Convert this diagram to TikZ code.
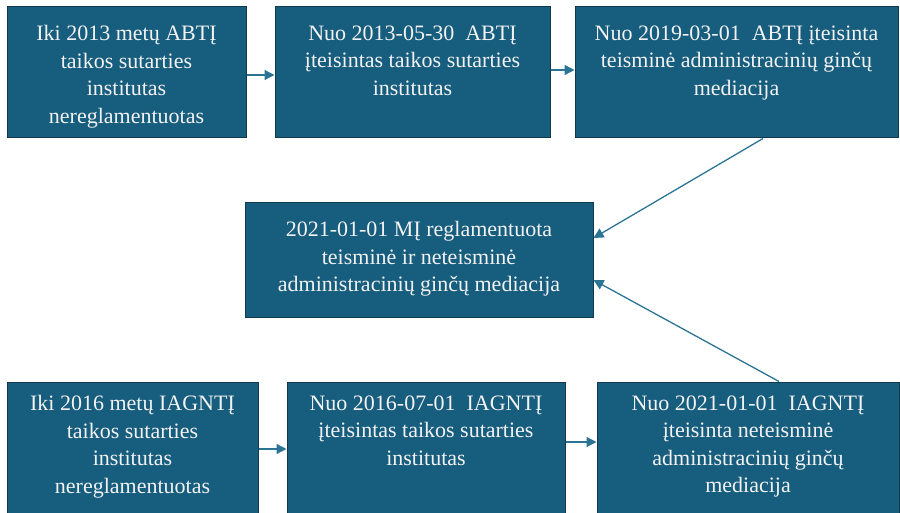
\documentclass[tikz,border=0pt]{standalone}
\usepackage{fontspec}
\setmainfont{Liberation Serif}
\usetikzlibrary{arrows.meta}
\definecolor{boxfill}{HTML}{175D7E}
\definecolor{boxline}{HTML}{113A4D}
\definecolor{arrowc}{HTML}{2C7494}
\definecolor{txt}{HTML}{F2F2F2}
\tikzset{
  box/.style={draw=boxline, line width=1pt, fill=boxfill, rectangle, inner sep=0pt},
  boxtext/.style={anchor=north, align=center, text=txt, inner sep=0pt,
    font=\fontsize{22}{27.5}\selectfont},
  conn/.style={draw=arrowc, line width=1.3pt, -{Triangle[length=10pt,width=10pt]}}
}
\begin{document}
\begin{tikzpicture}[x=1pt,y=1pt]
\useasboundingbox (0,0) rectangle (900,512);
\clip (0,0) rectangle (900,512);
% top row
\node[box, minimum width=239pt, minimum height=131pt] (A1) at (126.5,439.5) {};
\node[box, minimum width=275pt, minimum height=131pt] (A2) at (412.5,439.5) {};
\node[box, minimum width=323pt, minimum height=131pt] (A3) at (736.5,439.5) {};
% centre
\node[box, minimum width=348pt, minimum height=115pt] (C) at (419,251.5) {};
% bottom row
\node[box, minimum width=251pt, minimum height=131pt] (B1) at (132.5,64.5) {};
\node[box, minimum width=278pt, minimum height=131pt] (B2) at (426,64.5) {};
\node[box, minimum width=302pt, minimum height=131pt] (B3) at (748,64.5) {};
% texts
\node[boxtext] (tA1) at ([yshift=-19pt]A1.north) {Iki 2013 metų ABTĮ\\taikos sutarties\\institutas\\nereglamentuotas};
\node[boxtext] (tA2) at ([yshift=-19pt]A2.north) {Nuo 2013-05-30\ \ ABTĮ\\įteisintas taikos sutarties\\institutas};
\node[boxtext] (tA3) at ([yshift=-19pt]A3.north) {Nuo 2019-03-01\ \ ABTĮ įteisinta\\teisminė administracinių ginčų\\mediacija};
\node[boxtext] (tC) at ([yshift=-19pt]C.north) {2021-01-01 MĮ reglamentuota\\teisminė ir neteisminė\\administracinių ginčų mediacija};
\node[boxtext] (tB1) at ([yshift=-14pt]B1.north) {Iki 2016 metų IAGNTĮ\\taikos sutarties\\institutas\\nereglamentuotas};
\node[boxtext] (tB2) at ([yshift=-14pt]B2.north) {Nuo 2016-07-01\ \ IAGNTĮ\\įteisintas taikos sutarties\\institutas};
\node[boxtext] (tB3) at ([yshift=-14pt]B3.north) {Nuo 2021-01-01\ \ IAGNTĮ\\įteisinta neteisminė\\administracinių ginčų\\mediacija};
% connectors
\draw[conn] ([yshift=-2.5pt]A1.east) -- ([yshift=-2.5pt]A2.west);
\draw[conn] ([yshift=2.5pt]A2.east) -- ([yshift=2.5pt]A3.west);
\draw[conn] ([yshift=-1.5pt]B1.east) -- ([yshift=-1.5pt]B2.west);
\draw[conn] ([yshift=5.5pt]B2.east) -- ([yshift=5.5pt]B3.west);
\draw[conn] ([xshift=26.5pt]A3.south) -- ([yshift=22.5pt]C.east);
\draw[conn] ([xshift=31pt]B3.north) -- ([yshift=-19.5pt]C.east);
\end{tikzpicture}
\end{document}
